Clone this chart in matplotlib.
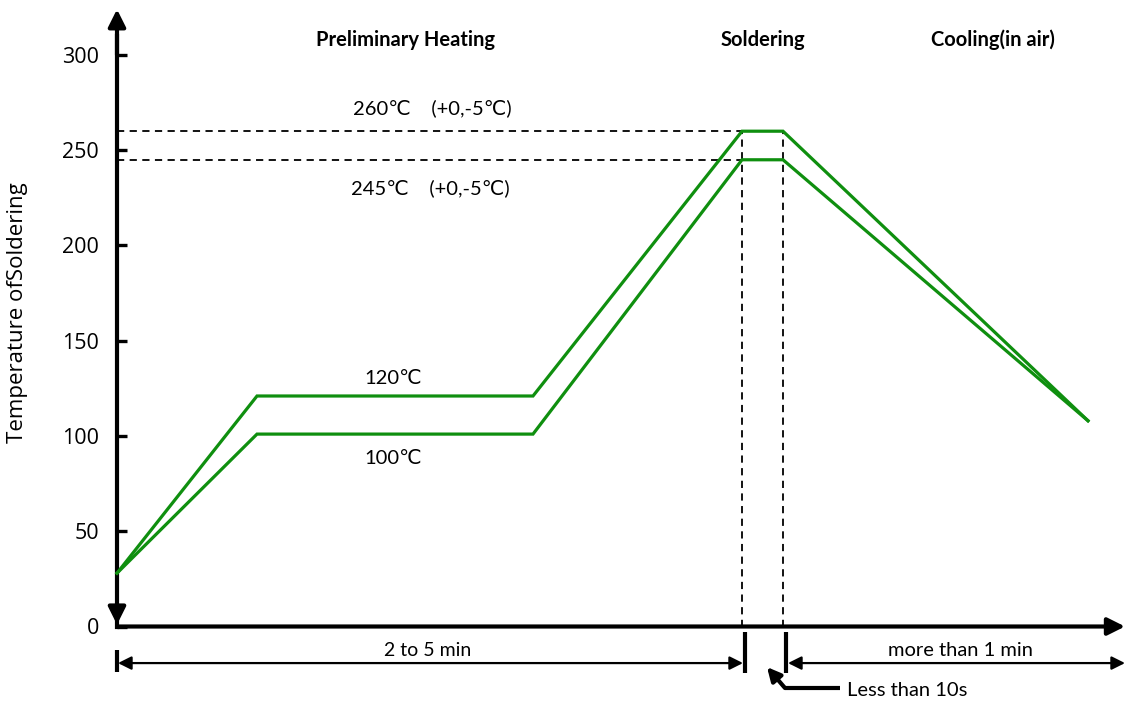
import matplotlib
matplotlib.use("Agg")
import matplotlib.pyplot as plt

# ---- data ----
time_pts = [0, 140, 416, 625, 666, 971]          # arbitrary time scale
upper_temp = [28, 121, 121, 260, 260, 108]
lower_temp = [28, 101, 101, 245, 245, 108]
peak_levels = [260, 245]
yticks = [0, 50, 100, 150, 200, 250, 300]
ytick_labels = ["0", "50", "100", "150", "200", "250", "300"]
phase_labels = ["Preliminary Heating", "Soldering", "Cooling(in air)"]
level_labels = ["260℃    (+0,-5℃)", "245℃    (+0,-5℃)", "120℃", "100℃"]
span_labels = ["2 to 5 min", "more than 1 min", "Less than 10s"]
y_label = "Temperature ofSoldering"

GREEN = "#0f8f0f"
TXT = ["Lato", "DejaVu Sans"]
BOLD = ["Lato", "DejaVu Sans"]

W, H = 1128, 707
fig = plt.figure(figsize=(W / 100, H / 100), dpi=100)
ax = fig.add_axes([0, 0, 1, 1])
px_per_T = 1.905
y0_pix = H - 626.5
ax.set_xlim(-117, W - 117)
ax.set_ylim(-y0_pix / px_per_T, (H - y0_pix) / px_per_T)

for s in ["top", "right", "bottom"]:
    ax.spines[s].set_visible(False)
ax.spines["left"].set_position(("data", 0))
ax.spines["left"].set_linewidth(3)
ax.spines["left"].set_bounds(0, 310)
ax.set_xticks([])
ax.set_yticks(yticks)
ax.set_yticklabels(ytick_labels, family=["Open Sans", "DejaVu Sans"], fontsize=15.5)
ax.tick_params(axis="y", direction="in", length=7, width=2.4, pad=13)

# axes arrows
ax.annotate("", xy=(0, 324), xytext=(0, 300),
            arrowprops=dict(arrowstyle="-|>", lw=3, color="k", mutation_scale=26,
                            shrinkA=0, shrinkB=0))
ax.annotate("", xy=(0, 1), xytext=(0, 12),
            arrowprops=dict(arrowstyle="-|>", lw=3, color="k", mutation_scale=26,
                            shrinkA=0, shrinkB=0))
ax.annotate("", xy=(1008, 0), xytext=(0, 0),
            arrowprops=dict(arrowstyle="-|>", lw=3, color="k", mutation_scale=26,
                            shrinkA=0, shrinkB=0))

# dashed reference lines
t_sol0, t_sol1 = time_pts[3], time_pts[4]
for lv in peak_levels:
    ax.plot([0, t_sol1], [lv, lv], ls=(0, (4, 3)), color="k", lw=1.3, zorder=2)
for t in (t_sol0, t_sol1):
    ax.plot([t, t], [0, peak_levels[0]], ls=(0, (4, 3)), color="k", lw=1.3, zorder=2)

# profile lines
ax.plot(time_pts, upper_temp, color=GREEN, lw=2.3, zorder=3, solid_joinstyle="miter")
ax.plot(time_pts, lower_temp, color=GREEN, lw=2.3, zorder=3, solid_joinstyle="miter")

# phase titles
FS_T = 14.5
ax.text(288, 308, phase_labels[0], ha="center", va="center", fontsize=FS_T,
        fontweight="bold", family=BOLD)
ax.text((t_sol0 + t_sol1) / 2, 308, phase_labels[1], ha="center", va="center",
        fontsize=FS_T, fontweight="bold", family=BOLD)
ax.text(876, 308, phase_labels[2], ha="center", va="center", fontsize=FS_T,
        fontweight="bold", family=BOLD)

# level labels
FS_L = 14.5
ax.text(315, 272, level_labels[0], ha="center", va="center", fontsize=FS_L, family=TXT)
ax.text(313, 230, level_labels[1], ha="center", va="center", fontsize=FS_L, family=TXT)
ax.text(276, 130, level_labels[2], ha="center", va="center", fontsize=FS_L, family=TXT)
ax.text(276, 88, level_labels[3], ha="center", va="center", fontsize=FS_L, family=TXT)

# time spans below axis
ybar = -19.2
for t, y1, y2 in [(0, -12.3, -24), (t_sol0 + 3, -3, -24.4), (t_sol1 + 3, -3, -24.4)]:
    ax.plot([t, t], [y1, y2], color="k", lw=3, solid_capstyle="butt")
ax.annotate("", xy=(t_sol0 + 1, ybar), xytext=(1, ybar),
            arrowprops=dict(arrowstyle="<|-|>", lw=1.6, color="k", mutation_scale=20,
                            shrinkA=0, shrinkB=0))
ax.annotate("", xy=(1008, ybar), xytext=(t_sol1 + 5, ybar),
            arrowprops=dict(arrowstyle="<|-|>", lw=1.6, color="k", mutation_scale=20,
                            shrinkA=0, shrinkB=0))
ax.text(t_sol0 / 2 - 2, -12.5, span_labels[0], ha="center", va="center", fontsize=14, family=TXT)
ax.text(844, -12.5, span_labels[1], ha="center", va="center", fontsize=14.5, family=TXT)

# "Less than 10s" leader
ax.plot([723, 668], [-32.3, -32.3], color="k", lw=3, solid_capstyle="butt")
ax.annotate("", xy=(650, -21.3), xytext=(668, -32.3),
            arrowprops=dict(arrowstyle="-|>", lw=3, color="k", mutation_scale=20,
                            shrinkA=0, shrinkB=0))
ax.text(730, -33.5, span_labels[2], ha="left", va="center", fontsize=14.5, family=TXT)

fig.text(18 / W, 1 - 313 / H, y_label, rotation=90, ha="center", va="center",
         fontsize=16, family=["Open Sans", "DejaVu Sans"])

fig.savefig("out.png", dpi=100)
